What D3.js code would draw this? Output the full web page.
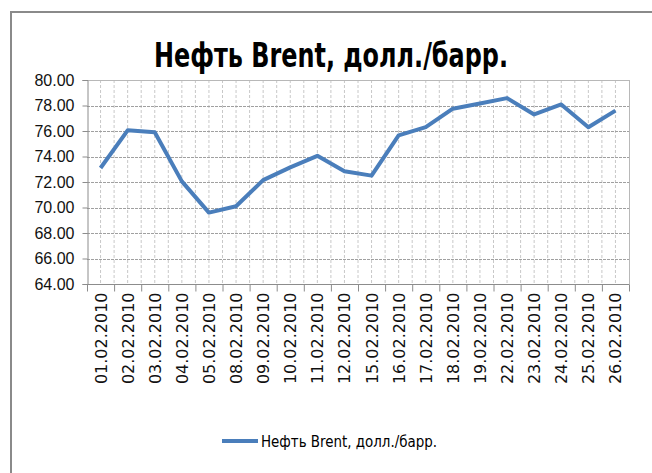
<!DOCTYPE html>
<html>
<head>
<meta charset="utf-8">
<script src="https://cdn.jsdelivr.net/npm/d3@7"></script>
<style>
  html, body { margin: 0; padding: 0; background: #fff; }
  svg { display: block; }
</style>
</head>
<body>
<svg id="chart" width="652" height="473"></svg>
<script>
const titleText = "Нефть Brent, долл./барр.";
const seriesName = "Нефть Brent, долл./барр.";
const dates = ["01.02.2010","02.02.2010","03.02.2010","04.02.2010","05.02.2010",
  "08.02.2010","09.02.2010","10.02.2010","11.02.2010","12.02.2010",
  "15.02.2010","16.02.2010","17.02.2010","18.02.2010","19.02.2010",
  "22.02.2010","23.02.2010","24.02.2010","25.02.2010","26.02.2010"];
const prices = [73.1, 76.05, 75.9, 72.05, 69.6, 70.1, 72.15, 73.15, 74.05, 72.85,
  72.5, 75.65, 76.3, 77.75, 78.15, 78.58, 77.3, 78.08, 76.3, 77.6];
const yTicks = [64, 66, 68, 70, 72, 74, 76, 78, 80];

const svg = d3.select("#chart");
const m = {left: 87, right: 629, top: 80, bottom: 284};

// outer border
svg.append("rect").attr("x", 11).attr("y", 12).attr("width", 700).attr("height", 520)
  .attr("fill", "none").attr("stroke", "#8a8a8a").attr("stroke-width", 2);

// title
svg.append("text").attr("x", 331).attr("y", 67).attr("text-anchor", "middle")
  .attr("font-family", "'Liberation Sans Narrow','DejaVu Sans Condensed',sans-serif")
  .attr("font-weight", "bold").attr("font-size", 34)
  .attr("textLength", 354).attr("lengthAdjust", "spacingAndGlyphs")
  .attr("fill", "#000").text(titleText);

const x = d3.scaleBand().domain(dates).range([m.left, m.right]).padding(0);
const y = d3.scaleLinear().domain([64, 80]).range([m.bottom, m.top]);

const g = svg.append("g");

// vertical gridlines: band boundaries and band centers
const vLines = [];
dates.forEach(d => { vLines.push(x(d)); vLines.push(x(d) + x.bandwidth() / 2); });
g.selectAll("line.vg").data(vLines.slice(1)).join("line")
  .attr("class", "vg")
  .attr("x1", d => d).attr("x2", d => d)
  .attr("y1", m.top).attr("y2", m.bottom)
  .attr("stroke", "#c8c8c8").attr("stroke-width", 1).attr("stroke-dasharray", "3,2");

// horizontal gridlines
g.selectAll("line.hg").data(yTicks.slice(1)).join("line")
  .attr("class", "hg")
  .attr("x1", m.left).attr("x2", m.right)
  .attr("y1", d => Math.round(y(d)) + 0.5).attr("y2", d => Math.round(y(d)) + 0.5)
  .attr("stroke", "#a0a0a0").attr("stroke-width", 1).attr("stroke-dasharray", "3,1");

// plot area border (right/top)
g.append("line").attr("x1", m.left).attr("x2", m.right + 0.5).attr("y1", m.top + 0.5).attr("y2", m.top + 0.5)
  .attr("stroke", "#b8b8b8");
g.append("line").attr("x1", m.right + 0.5).attr("x2", m.right + 0.5).attr("y1", m.top).attr("y2", m.bottom)
  .attr("stroke", "#b8b8b8");

// y axis
const yAxis = d3.axisLeft(y).tickValues(yTicks).tickFormat(d3.format(".2f")).tickSize(5).tickPadding(8);
const ya = svg.append("g").attr("transform", `translate(${m.left + 0.5},0)`).call(yAxis);
ya.select(".domain").attr("stroke", "#8c8c8c");
ya.selectAll(".tick line").attr("stroke", "#8c8c8c");
ya.selectAll(".tick text").attr("font-family", "'Liberation Sans',Arial,sans-serif")
  .attr("font-size", 16).attr("fill", "#111");

// x axis
const xa = svg.append("g").attr("transform", `translate(0,${m.bottom + 0.5})`);
xa.append("line").attr("x1", m.left).attr("x2", m.right + 0.5).attr("stroke", "#8c8c8c");
xa.selectAll("line.xt").data(dates.concat(["end"])).join("line")
  .attr("class", "xt")
  .attr("x1", (d, i) => (i < dates.length ? x(d) : m.right) + 0.5)
  .attr("x2", (d, i) => (i < dates.length ? x(d) : m.right) + 0.5)
  .attr("y1", 0).attr("y2", 7).attr("stroke", "#8c8c8c");
xa.selectAll("text").data(dates).join("text")
  .attr("transform", d => `translate(${x(d) + x.bandwidth() / 2 + 6},8) rotate(-90)`)
  .attr("text-anchor", "end")
  .attr("font-family", "'DejaVu Sans',sans-serif").attr("font-size", 16).attr("fill", "#111")
  .text(d => d);

// line
const line = d3.line().x((d, i) => x(dates[i]) + x.bandwidth() / 2).y(d => y(d));
svg.append("path").datum(prices).attr("d", line)
  .attr("fill", "none").attr("stroke", "#4a7ebb").attr("stroke-width", 4)
  .attr("stroke-linejoin", "round").attr("stroke-linecap", "butt");

// legend
const lg = svg.append("g");
lg.append("line").attr("x1", 222).attr("x2", 258).attr("y1", 441).attr("y2", 441)
  .attr("stroke", "#4a7ebb").attr("stroke-width", 4);
lg.append("text").attr("x", 261).attr("y", 447)
  .attr("font-family", "'Liberation Sans Narrow','DejaVu Sans Condensed',sans-serif")
  .attr("font-size", 16).attr("fill", "#000")
  .attr("textLength", 176).attr("lengthAdjust", "spacingAndGlyphs")
  .text(seriesName);
</script>
</body>
</html>
